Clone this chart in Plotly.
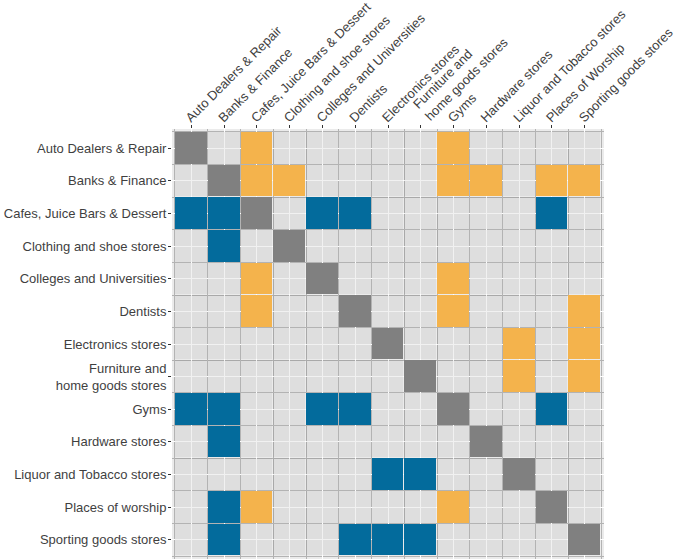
import plotly.graph_objects as go

x_labels = ["Auto Dealers & Repair", "Banks & Finance", "Cafes, Juice Bars & Dessert",
            "Clothing and shoe stores", "Colleges and Universities", "Dentists",
            "Electronics stores", "Furniture and<br>home goods stores", "Gyms",
            "Hardware stores", "Liquor and Tobacco stores", "Places of Worship",
            "Sporting goods stores"]
y_labels = ["Auto Dealers & Repair", "Banks & Finance", "Cafes, Juice Bars & Dessert",
            "Clothing and shoe stores", "Colleges and Universities", "Dentists",
            "Electronics stores", "Furniture and<br>home goods stores", "Gyms",
            "Hardware stores", "Liquor and Tobacco stores", "Places of worship",
            "Sporting goods stores"]

# one string per row (top to bottom), one character per column:
# O = orange, B = blue, X = same category, . = none
relations = [
    "X.O.....O....",
    ".XOO....OO.OO",
    "BBX.BB.....B.",
    ".B.X.........",
    "..O.X...O....",
    "..O..X..O...O",
    "......X...O.O",
    ".......X..O.O",
    "BB..BB..X..B.",
    ".B.......X...",
    "......BB..X..",
    ".BO.....O..X.",
    ".B...BBB....X",
]
codes = {".": None, "O": 1, "B": 2, "X": 3}

ORANGE = "#F4B34C"
BLUE = "#036B9C"
GREY = "#808080"
TXT = "#3f3f3f"
FONT = dict(family="Liberation Sans, Arial, sans-serif", size=13, color=TXT)

n = len(x_labels)
idx = list(range(n))
z_color = [[codes[c] for c in row] for row in relations]
z_base = [[0 for _ in row] for row in relations]

# two-line x labels are drawn as annotations so that their first line sits at the tick
multi = [i for i, t in enumerate(x_labels) if "<br>" in t]
x_ticktext = ["" if i in multi else t for i, t in enumerate(x_labels)]

fig = go.Figure()
fig.add_trace(go.Heatmap(
    x=idx, y=idx, z=z_base, zmin=0, zmax=1,
    colorscale=[[0, "rgba(0,0,0,0.055)"], [1, "rgba(0,0,0,0.055)"]],
    showscale=False, xgap=1, ygap=1, hoverinfo="skip"))
fig.add_trace(go.Heatmap(
    x=idx, y=idx, z=z_color, zmin=1, zmax=3,
    colorscale=[[0, ORANGE], [0.3333, ORANGE], [0.3334, BLUE], [0.6666, BLUE],
                [0.6667, GREY], [1, GREY]],
    showscale=False, xgap=1, ygap=1, hoverongaps=False))

for i in multi:
    fig.add_annotation(x=i, y=1, xref="x", yref="paper", text=x_labels[i],
                       textangle=-45, xanchor="left", yanchor="bottom", align="left",
                       showarrow=False, font=FONT, xshift=-12, yshift=4,
                       borderpad=0)

axis_common = dict(
    tickmode="array", tickvals=idx, showgrid=True, gridcolor="white", gridwidth=1,
    zeroline=False, ticks="outside", ticklen=3, tickcolor="#333333", tickwidth=1,
    showline=False, automargin=False, ticklabeloverflow="allow",
    tickfont=FONT,
    minor=dict(tickvals=[k - 0.5 for k in range(n + 1)], showgrid=True,
               gridcolor="#B3B3B3", gridwidth=1, ticks=""),
)
fig.update_xaxes(**axis_common, ticktext=x_ticktext, side="top", tickangle=-45,
                 range=[-0.59, n - 1 + 0.59], ticklabelstandoff=-5, ticklabelshift=-5)
fig.update_yaxes(**axis_common, ticktext=y_labels, range=[n - 1 + 0.59, -0.59],
                 ticklabelstandoff=-1)

fig.update_layout(
    width=677, height=560,
    margin=dict(l=172, r=73, t=129, b=1),
    plot_bgcolor="#EBEBEB", paper_bgcolor="white",
    showlegend=False,
)
fig.write_html("out.html", config={"displayModeBar": False},
               post_script="document.body.style.margin='0';document.body.style.overflow='hidden';")
